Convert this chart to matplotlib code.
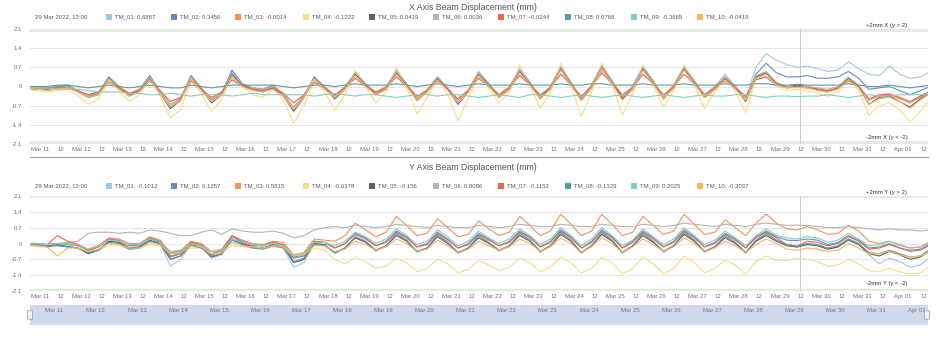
import matplotlib.pyplot as plt
from matplotlib.patches import Rectangle, FancyBboxPatch
from matplotlib.lines import Line2D
import pandas as pd

plt.rcParams['font.family'] = ['Liberation Sans', 'DejaVu Sans']

W, H = 946, 356

names = ["TM_01", "TM_02", "TM_03", "TM_04", "TM_05",
         "TM_06", "TM_07", "TM_08", "TM_09", "TM_10"]
colors = ["#9fc8e3", "#6a8bc4", "#ef935c", "#f6dd8a", "#5d6069",
          "#b4b4b4", "#e8684f", "#5c9aa1", "#80cfc1", "#f3b862"]

# readings every 6 h, from 10 Mar 16:00 (then 04/10/16/22 h each day)
times = pd.date_range("2022-03-10 16:00", periods=89, freq="6h")
hover_time = pd.Timestamp("2022-03-29 12:00")
hover_label = "29 Mar 2022, 12:00"

x_legend = ["0.6887", "0.3456", "-0.0014", "-0.1222", "0.0419",
            "0.0036", "-0.0244", "0.0766", "-0.3665", "-0.0419"]
y_legend = ["-0.1012", "0.1257", "0.5815", "-0.6378", "-0.156",
            "0.8086", "-0.1152", "-0.1329", "0.2025", "-0.3037"]

# ---- X axis displacement (mm)
x_tm01 = [-0.02, -0.05,
          -0.05, 0.0, 0.0, -0.15, -0.3, -0.2, 0.35, 0.0, -0.25, -0.1, 0.4, -0.15, -0.75, -0.45, 0.4, -0.05,
          -0.5, -0.2, 0.55, 0.1, -0.05, -0.1, 0.0, -0.3, -0.85, -0.35, 0.35, 0.0, -0.35, 0.0, 0.5, 0.1,
          -0.25, 0.0, 0.6, 0.1, -0.5, -0.15, 0.35, -0.05, -0.6, -0.15, 0.55, 0.1, -0.35, 0.0, 0.65, 0.15,
          -0.45, 0.0, 0.75, 0.15, -0.5, 0.05, 0.8, 0.2, -0.45, 0.0, 0.75, 0.2, -0.45, 0.05, 0.75, 0.2,
          -0.4, 0.0, 0.45, 0.0, -0.45, 0.7, 1.2, 0.95, 0.8, 0.7, 0.75, 0.65, 0.55, 0.6, 0.9, 0.65,
          0.45, 0.4, 0.75, 0.45, 0.3, 0.35, 0.55]
x_tm02 = [-0.05, -0.05,
          -0.05, 0.0, 0.05, -0.15, -0.35, -0.25, 0.35, 0.0, -0.3, -0.1, 0.4, -0.2, -0.8, -0.5, 0.4, -0.05,
          -0.55, -0.25, 0.6, 0.1, -0.05, -0.1, 0.05, -0.3, -0.9, -0.4, 0.35, 0.0, -0.4, -0.05, 0.5, 0.1,
          -0.3, -0.05, 0.55, 0.1, -0.5, -0.15, 0.3, -0.05, -0.6, -0.15, 0.5, 0.1, -0.4, -0.05, 0.6, 0.15,
          -0.45, 0.0, 0.7, 0.15, -0.5, 0.0, 0.75, 0.2, -0.45, 0.0, 0.7, 0.2, -0.45, 0.0, 0.7, 0.2,
          -0.4, -0.05, 0.35, 0.0, -0.45, 0.45, 0.85, 0.5, 0.35, 0.35, 0.4, 0.3, 0.3, 0.35, 0.55, 0.3,
          -0.1, -0.05, 0.0, -0.15, -0.3, -0.15, 0.0]
x_tm03 = [-0.05, -0.1,
          -0.1, -0.05, -0.05, -0.2, -0.3, -0.25, 0.2, -0.05, -0.3, -0.15, 0.25, -0.2, -0.65, -0.45, 0.25, -0.1,
          -0.45, -0.25, 0.35, 0.05, -0.1, -0.15, -0.05, -0.3, -0.75, -0.35, 0.25, -0.05, -0.35, -0.05, 0.4, 0.05,
          -0.25, -0.05, 0.45, 0.05, -0.45, -0.15, 0.25, -0.1, -0.5, -0.15, 0.4, 0.05, -0.35, -0.05, 0.5, 0.1,
          -0.4, -0.05, 0.6, 0.1, -0.45, 0.0, 0.6, 0.15, -0.4, -0.05, 0.6, 0.15, -0.4, 0.0, 0.6, 0.15,
          -0.35, -0.05, 0.3, -0.05, -0.45, 0.3, 0.45, 0.1, -0.05, 0.0, -0.05, -0.1, -0.15, -0.05, 0.25, 0.0,
          -0.5, -0.35, -0.3, -0.45, -0.6, -0.4, -0.2]
x_tm04 = [-0.1, -0.15,
          -0.2, -0.15, -0.1, -0.35, -0.65, -0.45, 0.2, -0.15, -0.55, -0.3, 0.3, -0.35, -1.15, -0.85, 0.25, -0.25,
          -0.9, -0.5, 0.45, 0.0, -0.3, -0.4, -0.1, -0.5, -1.35, -0.7, 0.25, -0.2, -0.85, -0.3, 0.6, 0.0,
          -0.6, -0.2, 0.7, 0.0, -1.0, -0.4, 0.3, -0.3, -1.25, -0.45, 0.5, -0.05, -0.6, -0.2, 0.8, 0.05,
          -0.8, -0.2, 0.85, 0.05, -1.1, -0.2, 0.85, 0.1, -1.05, -0.25, 0.8, 0.05, -0.75, -0.15, 0.8, 0.05,
          -0.8, -0.2, 0.35, -0.2, -0.95, 0.3, 0.5, 0.0, -0.15, -0.1, -0.15, -0.25, -0.35, -0.2, 0.25, -0.15,
          -1.05, -0.7, -0.6, -0.85, -1.3, -0.9, -0.45]
x_tm05 = [-0.05, -0.1,
          -0.1, -0.05, 0.0, -0.2, -0.4, -0.3, 0.3, -0.05, -0.35, -0.15, 0.3, -0.25, -0.8, -0.5, 0.35, -0.1,
          -0.6, -0.3, 0.45, 0.05, -0.1, -0.2, -0.05, -0.35, -0.9, -0.4, 0.3, -0.05, -0.45, -0.1, 0.45, 0.05,
          -0.3, -0.1, 0.5, 0.05, -0.5, -0.2, 0.3, -0.1, -0.65, -0.2, 0.45, 0.05, -0.4, -0.1, 0.55, 0.1,
          -0.45, -0.05, 0.65, 0.1, -0.5, -0.05, 0.7, 0.15, -0.45, -0.1, 0.65, 0.15, -0.45, -0.05, 0.65, 0.15,
          -0.4, -0.1, 0.3, -0.05, -0.55, 0.35, 0.5, 0.1, 0.0, 0.05, 0.0, -0.1, -0.2, -0.05, 0.3, 0.0,
          -0.65, -0.4, -0.35, -0.55, -0.75, -0.45, -0.25]
x_tm06 = [-0.05, -0.05,
          -0.1, -0.05, 0.0, -0.15, -0.35, -0.2, 0.3, 0.0, -0.25, -0.1, 0.35, -0.15, -0.7, -0.4, 0.35, -0.05,
          -0.5, -0.2, 0.5, 0.1, -0.05, -0.1, 0.0, -0.25, -0.8, -0.3, 0.3, 0.0, -0.35, 0.0, 0.5, 0.1,
          -0.2, 0.0, 0.55, 0.1, -0.4, -0.1, 0.35, -0.05, -0.5, -0.1, 0.5, 0.1, -0.3, 0.0, 0.6, 0.15,
          -0.35, 0.0, 0.7, 0.15, -0.4, 0.05, 0.75, 0.2, -0.35, 0.0, 0.7, 0.2, -0.35, 0.05, 0.7, 0.2,
          -0.3, 0.0, 0.35, 0.0, -0.4, 0.4, 0.55, 0.15, 0.0, 0.0, 0.0, -0.05, -0.1, 0.0, 0.35, 0.05,
          -0.5, -0.3, -0.25, -0.4, -0.6, -0.35, -0.15]
x_tm07 = [-0.05, -0.1,
          -0.1, -0.05, -0.05, -0.15, -0.3, -0.2, 0.15, -0.05, -0.25, -0.15, 0.2, -0.15, -0.55, -0.4, 0.2, -0.1,
          -0.4, -0.2, 0.25, 0.0, -0.1, -0.15, -0.05, -0.25, -0.6, -0.3, 0.15, -0.05, -0.3, -0.05, 0.3, 0.0,
          -0.2, -0.05, 0.35, 0.0, -0.35, -0.15, 0.2, -0.1, -0.45, -0.15, 0.3, 0.0, -0.3, -0.05, 0.4, 0.05,
          -0.3, -0.05, 0.45, 0.05, -0.35, 0.0, 0.5, 0.1, -0.3, -0.05, 0.45, 0.1, -0.3, 0.0, 0.45, 0.1,
          -0.3, -0.05, 0.2, -0.05, -0.35, 0.25, 0.35, 0.05, -0.05, 0.0, -0.05, -0.1, -0.15, -0.05, 0.2, 0.0,
          -0.45, -0.3, -0.3, -0.4, -0.55, -0.35, -0.2]
x_tm08 = [0.0, 0.0,
          0.0, 0.05, 0.05, 0.0, -0.05, 0.0, 0.05, 0.0, -0.05, 0.0, 0.05, 0.0, -0.05, -0.05, 0.05, 0.0,
          -0.05, 0.0, 0.05, 0.05, 0.05, 0.05, 0.05, 0.0, -0.05, 0.0, 0.05, 0.05, 0.0, 0.05, 0.1, 0.05,
          0.05, 0.05, 0.1, 0.05, 0.0, 0.05, 0.1, 0.05, 0.0, 0.05, 0.1, 0.05, 0.05, 0.05, 0.1, 0.05,
          0.05, 0.05, 0.1, 0.05, 0.05, 0.1, 0.1, 0.05, 0.05, 0.05, 0.1, 0.05, 0.05, 0.05, 0.1, 0.05,
          0.05, 0.05, 0.1, 0.05, 0.05, 0.1, 0.1, 0.05, 0.05, 0.08, 0.05, 0.05, 0.05, 0.05, 0.1, 0.05,
          0.0, 0.0, 0.05, 0.0, -0.05, 0.0, 0.05]
x_tm09 = [-0.05, -0.05,
          -0.05, -0.1, -0.1, -0.1, -0.15, -0.2, -0.2, -0.2, -0.25, -0.25, -0.3, -0.3, -0.25, -0.3, -0.35, -0.3,
          -0.3, -0.3, -0.35, -0.3, -0.25, -0.3, -0.3, -0.3, -0.3, -0.3, -0.35, -0.3, -0.25, -0.3, -0.35, -0.3,
          -0.3, -0.35, -0.4, -0.35, -0.3, -0.3, -0.35, -0.3, -0.3, -0.35, -0.4, -0.35, -0.3, -0.35, -0.4, -0.3,
          -0.3, -0.35, -0.4, -0.35, -0.3, -0.35, -0.4, -0.35, -0.3, -0.35, -0.4, -0.35, -0.3, -0.35, -0.4, -0.35,
          -0.3, -0.35, -0.35, -0.3, -0.3, -0.35, -0.4, -0.35, -0.35, -0.37, -0.35, -0.35, -0.3, -0.35, -0.4, -0.35,
          -0.3, -0.35, -0.35, -0.3, -0.3, -0.3, -0.25]
x_tm10 = [-0.05, -0.1,
          -0.15, -0.1, -0.05, -0.2, -0.4, -0.3, 0.2, -0.1, -0.35, -0.2, 0.25, -0.25, -0.75, -0.5, 0.25, -0.15,
          -0.55, -0.3, 0.35, 0.0, -0.15, -0.2, -0.1, -0.35, -0.85, -0.4, 0.25, -0.1, -0.4, -0.1, 0.4, 0.0,
          -0.3, -0.1, 0.45, 0.0, -0.5, -0.2, 0.25, -0.15, -0.6, -0.2, 0.4, 0.0, -0.4, -0.1, 0.5, 0.05,
          -0.45, -0.1, 0.6, 0.05, -0.5, -0.05, 0.65, 0.1, -0.5, -0.1, 0.6, 0.1, -0.45, -0.05, 0.6, 0.1,
          -0.4, -0.1, 0.25, -0.1, -0.5, 0.3, 0.45, 0.05, -0.05, -0.04, -0.05, -0.15, -0.2, -0.1, 0.25, -0.05,
          -0.65, -0.45, -0.4, -0.55, -0.8, -0.5, -0.25]

# ---- Y axis displacement (mm)
y_tm01 = [0.0, -0.05,
          -0.1, -0.05, -0.1, -0.2, -0.45, -0.3, 0.1, 0.05, -0.25, -0.2, 0.15, 0.0, -1.0, -0.7, -0.05, -0.15,
          -0.65, -0.5, 0.2, 0.0, -0.15, -0.2, -0.05, -0.2, -1.05, -0.85, 0.0, -0.05, -0.45, -0.2, 0.3, 0.1,
          -0.35, -0.1, 0.4, 0.15, -0.4, -0.2, 0.35, 0.05, -0.45, -0.2, 0.3, 0.05, -0.35, -0.1, 0.4, 0.15,
          -0.4, -0.1, 0.45, 0.15, -0.45, -0.1, 0.45, 0.15, -0.45, -0.1, 0.4, 0.1, -0.4, -0.1, 0.45, 0.15,
          -0.4, -0.15, 0.3, 0.05, -0.45, 0.1, 0.4, 0.15, -0.05, -0.1, 0.0, -0.05, -0.25, -0.15, 0.2, 0.0,
          -0.5, -0.9, -0.65, -0.8, -1.05, -0.95, -0.6]
y_tm02 = [0.0, 0.0,
          -0.05, 0.0, -0.05, -0.1, -0.3, -0.15, 0.2, 0.15, -0.1, -0.05, 0.25, 0.1, -0.6, -0.45, 0.05, -0.05,
          -0.5, -0.35, 0.3, 0.1, -0.05, -0.1, 0.05, -0.05, -0.8, -0.65, 0.1, 0.05, -0.2, 0.0, 0.45, 0.25,
          -0.1, 0.1, 0.55, 0.3, -0.15, 0.0, 0.5, 0.2, -0.2, 0.0, 0.45, 0.2, -0.1, 0.1, 0.55, 0.3,
          -0.15, 0.1, 0.6, 0.3, -0.2, 0.1, 0.6, 0.3, -0.2, 0.1, 0.55, 0.25, -0.15, 0.1, 0.6, 0.3,
          -0.15, 0.05, 0.45, 0.2, -0.2, 0.3, 0.55, 0.3, 0.15, 0.13, 0.2, 0.15, -0.05, 0.05, 0.35, 0.15,
          -0.2, -0.15, 0.0, -0.2, -0.35, -0.3, -0.05]
y_tm03 = [0.0, 0.0,
          -0.05, 0.0, 0.0, -0.05, -0.25, -0.1, 0.25, 0.2, 0.0, 0.0, 0.3, 0.15, -0.4, -0.3, 0.1, 0.0,
          -0.35, -0.25, 0.35, 0.15, 0.0, -0.05, 0.1, 0.05, -0.5, -0.4, 0.2, 0.15, 0.1, 0.35, 0.9, 0.6,
          0.3, 0.5, 1.2, 0.8, 0.35, 0.45, 1.1, 0.7, 0.3, 0.4, 1.0, 0.65, 0.35, 0.5, 1.2, 0.8,
          0.35, 0.55, 1.3, 0.85, 0.35, 0.55, 1.3, 0.85, 0.35, 0.5, 1.2, 0.8, 0.4, 0.55, 1.3, 0.85,
          0.4, 0.5, 1.05, 0.7, 0.35, 0.9, 1.3, 0.9, 0.65, 0.6, 0.75, 0.6, 0.4, 0.45, 0.8, 0.55,
          0.1, 0.0, 0.1, -0.05, -0.2, -0.15, 0.05]
y_tm04 = [-0.1, -0.15,
          -0.15, -0.1, -0.15, -0.2, -0.35, -0.3, -0.1, -0.1, -0.25, -0.2, -0.05, -0.1, -0.45, -0.4, -0.2, -0.2,
          -0.45, -0.4, -0.1, -0.15, -0.2, -0.25, -0.15, -0.2, -0.55, -0.5, -0.2, -0.3, -0.7, -0.9, -0.6, -0.8,
          -1.1, -1.0, -0.65, -0.85, -1.25, -1.1, -0.7, -0.9, -1.3, -1.15, -0.75, -0.95, -1.2, -1.05, -0.65, -0.85,
          -1.25, -1.05, -0.6, -0.85, -1.3, -1.1, -0.6, -0.85, -1.35, -1.1, -0.6, -0.9, -1.35, -1.1, -0.55, -0.85,
          -1.3, -1.1, -0.75, -0.95, -1.35, -0.8, -0.55, -0.75, -0.75, -0.65, -0.7, -0.8, -1.0, -0.95, -0.7, -0.9,
          -1.2, -1.25, -1.1, -1.25, -1.35, -1.3, -0.95]
y_tm05 = [0.0, -0.05,
          -0.15, -0.05, -0.15, -0.2, -0.45, -0.3, 0.1, 0.05, -0.2, -0.15, 0.15, 0.0, -0.7, -0.55, -0.05, -0.15,
          -0.6, -0.45, 0.2, 0.0, -0.15, -0.2, -0.05, -0.15, -0.85, -0.7, 0.0, -0.05, -0.4, -0.2, 0.25, 0.05,
          -0.3, -0.1, 0.35, 0.1, -0.35, -0.2, 0.3, 0.0, -0.4, -0.2, 0.25, 0.0, -0.3, -0.1, 0.35, 0.1,
          -0.35, -0.1, 0.4, 0.1, -0.4, -0.1, 0.4, 0.1, -0.4, -0.1, 0.35, 0.05, -0.35, -0.1, 0.4, 0.1,
          -0.35, -0.15, 0.25, 0.0, -0.4, 0.1, 0.35, 0.1, -0.1, -0.16, -0.05, -0.1, -0.25, -0.15, 0.15, -0.05,
          -0.45, -0.55, -0.35, -0.5, -0.7, -0.6, -0.3]
y_tm06 = [0.0, 0.0,
          -0.05, 0.0, 0.05, 0.1, 0.45, 0.5, 0.5, 0.45, 0.5, 0.45, 0.6, 0.55, 0.45, 0.35, 0.35, 0.5,
          0.6, 0.4, 0.65, 0.55, 0.5, 0.5, 0.55, 0.45, 0.25, 0.35, 0.6, 0.7, 0.75, 0.7, 0.8, 0.75,
          0.7, 0.75, 0.85, 0.8, 0.75, 0.7, 0.8, 0.75, 0.7, 0.7, 0.8, 0.75, 0.7, 0.75, 0.85, 0.8,
          0.75, 0.75, 0.85, 0.8, 0.75, 0.75, 0.85, 0.8, 0.75, 0.75, 0.85, 0.8, 0.75, 0.8, 0.9, 0.85,
          0.8, 0.75, 0.85, 0.8, 0.75, 0.85, 0.9, 0.85, 0.8, 0.81, 0.8, 0.75, 0.7, 0.7, 0.75, 0.7,
          0.65, 0.6, 0.65, 0.6, 0.6, 0.55, 0.6]
y_tm07 = [0.0, 0.0,
          -0.05, 0.35, 0.1, -0.05, -0.3, -0.15, 0.2, 0.1, -0.1, -0.1, 0.25, 0.05, -0.45, -0.35, 0.05, -0.05,
          -0.45, -0.3, 0.35, 0.05, -0.1, -0.1, 0.05, -0.05, -0.6, -0.5, 0.1, 0.05, -0.2, 0.0, 0.4, 0.2,
          -0.1, 0.05, 0.5, 0.25, -0.15, -0.05, 0.45, 0.15, -0.2, -0.05, 0.4, 0.15, -0.1, 0.05, 0.5, 0.25,
          -0.15, 0.05, 0.55, 0.25, -0.2, 0.05, 0.55, 0.25, -0.2, 0.05, 0.5, 0.2, -0.15, 0.05, 0.55, 0.25,
          -0.15, 0.0, 0.4, 0.15, -0.2, 0.25, 0.5, 0.25, -0.05, -0.12, 0.1, 0.05, -0.1, 0.0, 0.3, 0.1,
          -0.25, -0.2, -0.05, -0.2, -0.3, -0.25, 0.0]
y_tm08 = [-0.05, -0.05,
          -0.1, -0.1, -0.15, -0.2, -0.4, -0.3, 0.05, 0.0, -0.25, -0.2, 0.1, -0.05, -0.55, -0.45, -0.1, -0.2,
          -0.55, -0.45, 0.15, -0.05, -0.2, -0.25, -0.1, -0.2, -0.65, -0.55, -0.05, -0.1, -0.4, -0.2, 0.3, 0.1,
          -0.3, -0.1, 0.45, 0.15, -0.35, -0.2, 0.4, 0.05, -0.4, -0.2, 0.35, 0.05, -0.3, -0.1, 0.45, 0.15,
          -0.35, -0.1, 0.5, 0.15, -0.4, -0.1, 0.5, 0.15, -0.4, -0.1, 0.45, 0.1, -0.35, -0.1, 0.5, 0.15,
          -0.35, -0.15, 0.35, 0.05, -0.4, 0.15, 0.45, 0.15, -0.05, -0.13, 0.0, -0.05, -0.2, -0.1, 0.2, 0.0,
          -0.4, -0.45, -0.3, -0.45, -0.6, -0.55, -0.25]
y_tm09 = [0.0, 0.0,
          -0.05, 0.0, -0.05, -0.1, -0.25, -0.1, 0.15, 0.1, -0.05, -0.05, 0.2, 0.05, -0.35, -0.3, 0.0, -0.1,
          -0.35, -0.3, 0.2, 0.05, -0.05, -0.1, 0.0, -0.1, -0.5, -0.45, 0.05, 0.05, -0.1, 0.1, 0.5, 0.3,
          0.0, 0.2, 0.65, 0.35, -0.05, 0.1, 0.6, 0.3, -0.1, 0.1, 0.55, 0.25, 0.0, 0.2, 0.65, 0.35,
          -0.05, 0.2, 0.7, 0.35, -0.1, 0.2, 0.7, 0.35, -0.1, 0.15, 0.65, 0.3, -0.05, 0.2, 0.7, 0.35,
          -0.05, 0.15, 0.55, 0.25, -0.1, 0.35, 0.65, 0.35, 0.25, 0.2, 0.3, 0.25, 0.05, 0.15, 0.45, 0.2,
          -0.1, -0.05, 0.1, -0.1, -0.2, -0.15, 0.1]
y_tm10 = [-0.05, -0.1,
          -0.15, -0.55, -0.2, -0.2, -0.35, -0.25, 0.0, -0.05, -0.2, -0.2, 0.05, -0.05, -0.45, -0.4, -0.1, -0.15,
          -0.45, -0.4, 0.05, -0.1, -0.15, -0.2, -0.1, -0.15, -0.55, -0.5, -0.1, -0.1, -0.35, -0.25, 0.1, -0.05,
          -0.3, -0.15, 0.2, 0.0, -0.35, -0.25, 0.15, -0.1, -0.4, -0.25, 0.1, -0.1, -0.3, -0.15, 0.2, 0.0,
          -0.35, -0.15, 0.25, 0.0, -0.4, -0.15, 0.25, 0.0, -0.4, -0.15, 0.2, -0.05, -0.35, -0.15, 0.25, 0.0,
          -0.35, -0.2, 0.1, -0.1, -0.4, -0.05, 0.2, 0.0, -0.25, -0.3, -0.2, -0.25, -0.35, -0.3, 0.0, -0.2,
          -0.45, -0.45, -0.35, -0.5, -0.6, -0.55, -0.35]

x_series = [x_tm01, x_tm02, x_tm03, x_tm04, x_tm05, x_tm06, x_tm07, x_tm08, x_tm09, x_tm10]
y_series = [y_tm01, y_tm02, y_tm03, y_tm04, y_tm05, y_tm06, y_tm07, y_tm08, y_tm09, y_tm10]

y_ticks = [-2.1, -1.4, -0.7, 0, 0.7, 1.4, 2.1]
y_tick_labels = ["-2.1", "-1.4", "-0.7", "0", "0.7", "1.4", "2.1"]
tick_times = pd.date_range("2022-03-11", "2022-04-01 12:00", freq="12h")
tick_labels = [t.strftime("%b %d") if t.hour == 0 else "12" for t in tick_times]
day_times = pd.date_range("2022-03-11", "2022-04-01", freq="D")
x_start = pd.Timestamp("2022-03-10 18:00")
x_end = pd.Timestamp("2022-04-01 14:30")

GREY = "#707070"


def box(left, top, right, bottom):
    return [left / W, 1 - bottom / H, (right - left) / W, (bottom - top) / H]


fig = plt.figure(figsize=(W / 100, H / 100), dpi=100)


def panel(top, bottom, series, letter, legend_vals, title_px, legend_px):
    ax = fig.add_axes(box(30, top, 928, bottom))
    for vals, col in zip(series, colors):
        ax.plot(times, vals, color=col, lw=0.8, zorder=3)
    ax.axhspan(2.0, 2.1, color="#dfeed8", lw=0, zorder=1)
    ax.axhspan(-2.1, -2.0, color="#dfeed8", lw=0, zorder=1)
    ax.axvline(hover_time, color="#cccccc", lw=0.7, zorder=2)
    ax.set_ylim(-2.1, 2.1)
    ax.set_xlim(x_start, x_end)
    ax.set_yticks(y_ticks)
    ax.set_yticklabels(y_tick_labels)
    ax.set_xticks(tick_times)
    ax.set_xticklabels(tick_labels)
    ax.tick_params(length=0, labelsize=4.3, colors=GREY)
    ax.tick_params(axis="y", pad=6)
    ax.tick_params(axis="x", pad=2)
    ax.grid(axis="y", color="#e6e6e6", lw=0.7)
    ax.set_axisbelow(True)
    for s in ax.spines.values():
        s.set_visible(False)
    hgt = bottom - top
    ax.text(0.977, 1 + 4 / hgt, "+2mm %s (y > 2)" % letter, transform=ax.transAxes,
            ha="right", va="center", fontsize=4.3, color="#333333", clip_on=False)
    ax.text(0.977, 7 / hgt, "-2mm %s (y < -2)" % letter, transform=ax.transAxes,
            ha="right", va="center", fontsize=4.3, color="#333333")

    fig.text(473 / W, 1 - title_px / H, "%s Axis Beam Displacement (mm)" % letter,
             ha="center", va="center", fontsize=6.3, color="#555555")
    fig.text(35 / W, 1 - legend_px / H, hover_label, ha="left", va="center",
             fontsize=4.3, color="#5a5a5a")
    sq_x = [106, 171, 235, 303, 369, 433, 498, 565, 631, 697]
    for sx, nm, col, v in zip(sq_x, names, colors, legend_vals):
        fig.patches.append(Rectangle((sx / W, 1 - (legend_px + 3) / H), 6 / W, 6 / H,
                                     transform=fig.transFigure, color=col, lw=0))
        fig.text((sx + 9) / W, 1 - legend_px / H, "%s: %s" % (nm, v), ha="left",
                 va="center", fontsize=4.3, color="#5a5a5a")
    return ax


ax_x = panel(29, 144, x_series, "X", x_legend, 7, 17)
ax_y = panel(196, 291, y_series, "Y", y_legend, 167, 186)

# thin rule under the upper chart
fig.lines.append(Line2D([30 / W, 928 / W], [1 - 157 / H, 1 - 157 / H],
                        transform=fig.transFigure, color="#a0a0a0", lw=0.8))

# navigator
ax_nav = fig.add_axes(box(30, 305, 928, 325))
ax_nav.set_xlim(x_start, x_end)
ax_nav.set_ylim(0, 1)
ax_nav.axvspan(x_start, x_end, color="#cfd8ec", lw=0)
ax_nav.set_xticks([])
ax_nav.set_yticks([])
for s in ax_nav.spines.values():
    s.set_visible(False)
for d in day_times:
    ax_nav.text(d + pd.Timedelta(hours=3), 0.73, d.strftime("%b %d"), ha="left",
                va="center", fontsize=4.3, color="#777777")
for hx in [28, 925]:
    fig.patches.append(FancyBboxPatch((hx / W, 1 - 319 / H), 4 / W, 8 / H,
                                      boxstyle="round,pad=0.0005", transform=fig.transFigure,
                                      facecolor="#f2f2f2", edgecolor="#999999", lw=0.5))

fig.savefig("out.png", dpi=100)
